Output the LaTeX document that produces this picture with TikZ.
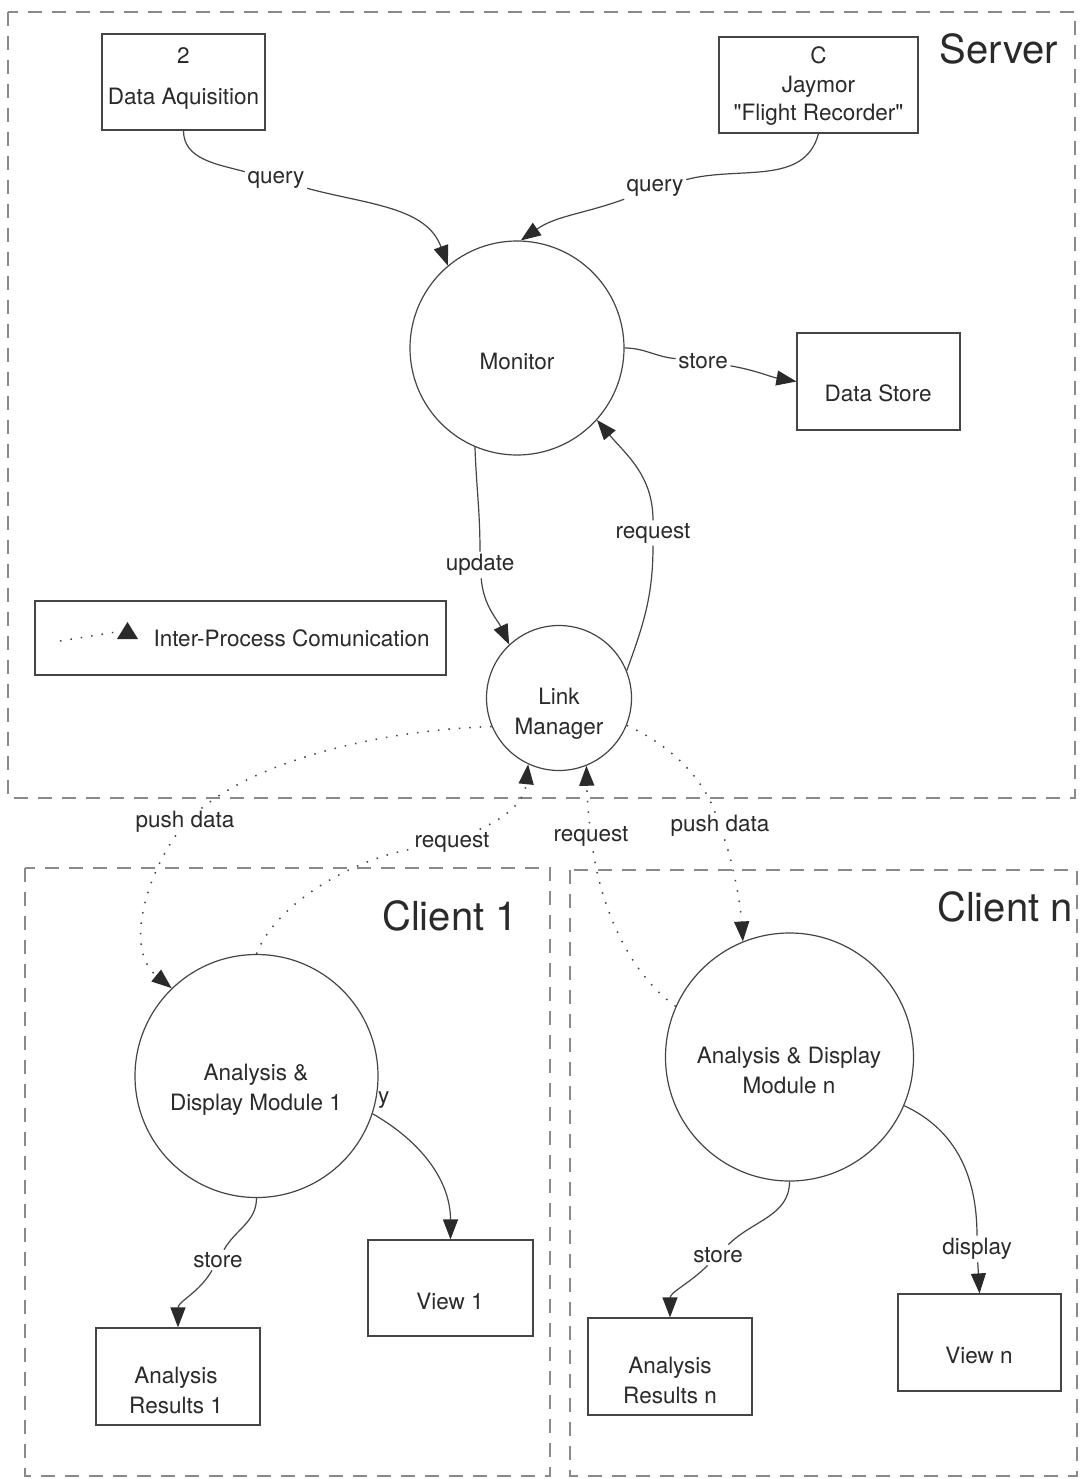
\documentclass[tikz,border=0pt]{standalone}
\usepackage{fontspec}
\setmainfont{TeX Gyre Heros}[Ligatures=TeXOff]
\usetikzlibrary{arrows.meta,backgrounds}
\definecolor{ink}{HTML}{2A2A2A}
\definecolor{lin}{HTML}{454545}
\definecolor{dsh}{HTML}{8A8A8A}
\begin{document}
\begin{tikzpicture}[x=1pt,y=1pt,
  every node/.style={font=\fontsize{22.5}{30}\selectfont, text=ink},
  box/.style={draw=lin, line width=1.2pt, inner sep=0pt},
  proc/.style={draw=lin, line width=1.2pt, circle, inner sep=0pt, fill=white},
  lbl/.style={inner sep=2.5pt},
  title/.style={font=\fontsize{40}{48}\selectfont},
  flow/.style={draw=lin, line width=1.2pt},
  arr/.style={-{Triangle[length=20pt,width=15pt,color=ink]}},
  ipc/.style={draw=lin, line width=1.5pt, dash pattern=on 1.5pt off 9pt},
  region/.style={draw=dsh, line width=1.2pt, dash pattern=on 14pt off 10pt}]

\begin{pgfonlayer}{background}
\fill[white] (0,0) rectangle (1082,-1479);
\end{pgfonlayer}
\useasboundingbox (0,0) rectangle (1082,-1479);

% regions
\draw[region] (8,-12) rectangle (1075,-798);
\draw[region] (25,-868) rectangle (550,-1476);
\draw[region] (570,-870) rectangle (1077,-1476);

\node[title] (server) at (999,-49) {Server};
\node[title] (client1) at (450,-916) {Client 1};
\node[title] (clientn) at (1005,-907) {Client n};

% boxes
\node[box, minimum width=163pt, minimum height=96pt] (dataaq) at (183.5,-82) {};
\node[align=center, font=\fontsize{22.5}{41}\selectfont] (dataaqt) at (183.5,-78) {2\\Data Aquisition};
\node[box, minimum width=199pt, minimum height=96pt] (jaymor) at (818.5,-85) {};
\node[align=center, font=\fontsize{22.5}{28.5}\selectfont] (jaymort) at (818.5,-86.5) {C\\Jaymor\\"Flight Recorder"};
\node[box, minimum width=163pt, minimum height=97pt] (datastore) at (878.5,-381.5) {};
\node (datastoret) at (878,-393) {Data Store};
\node[box, minimum width=411pt, minimum height=74pt] (legend) at (240.5,-638) {};
\node[anchor=west] (legendt) at (150,-638) {Inter-Process Comunication};
\coordinate (legs) at (60,-641);
\coordinate (lege) at (116,-632);
\draw[ipc] (legs) -- (lege);
\fill[ink] (117,-639) -- (138,-639) -- (127.5,-622) -- cycle;

\node[box, minimum width=165pt, minimum height=96pt] (view1) at (450.5,-1288) {};
\node (view1t) at (450,-1301) {View 1};
\node[box, minimum width=164pt, minimum height=97pt] (res1) at (178,-1376.5) {};
\node[align=center] (res1t) at (176,-1390) {Analysis\\Results 1};
\node[box, minimum width=164pt, minimum height=97pt] (resn) at (670,-1366.5) {};
\node[align=center] (resnt) at (670,-1380) {Analysis\\Results n};
\node[box, minimum width=163pt, minimum height=97pt] (viewn) at (979.5,-1342.5) {};
\node (viewnt) at (979,-1355) {View n};

% processes
\node[proc, minimum size=214pt] (monitor) at (517,-348) {};
\node (monitort) at (517,-361) {Monitor};
\node[proc, minimum size=145pt] (linkmgr) at (559,-698) {};
\node[align=center] (linkmgrt) at (559,-714) {Link\\Manager};
\node[proc, minimum size=243pt] (mod1) at (256.5,-1076) {};
\node[align=center] (mod1t) at (256,-1090) {Analysis \&\\Display Module 1};
\node[proc, minimum size=248pt] (modn) at (789.5,-1057) {};
\node[align=center] (modnt) at (789,-1070) {Analysis \& Display\\Module n};

% edge labels
\node[lbl] (q1) at (276,-180) {query};
\node[lbl] (q2) at (655,-188) {query};
\node[lbl] (st1) at (703,-361) {store};
\node[lbl] (upd) at (480,-565) {update};
\node[lbl] (rq1) at (653,-533) {request};
\node[lbl] (pd1) at (185,-822) {push data};
\node[lbl] (rq2) at (452,-842) {request};
\node[lbl] (rq3) at (591,-836) {request};
\node[lbl] (pd2) at (720,-826) {push data};
\node[lbl] (st2) at (218,-1260) {store};
\node[lbl] (st3) at (718,-1255) {store};
\node[lbl] (dsp2) at (977,-1249) {display};
\node[lbl, anchor=west, inner sep=0pt] (dsp1) at (378,-1100) {y};

% server flows
\draw[flow] (dataaq.south) to[out=-90,in=165] (q1);
\draw[flow,arr] (q1) to[out=-15,in=110] (monitor.130);
\draw[flow] (jaymor.south) to[out=-105,in=15] (q2);
\draw[flow,arr] (q2) to[out=200,in=35] (monitor.88);
\draw[flow] (monitor.0) to[out=0,in=175] (st1);
\draw[flow,arr] (st1) to[out=-10,in=170] (datastore.west);
\draw[flow] (monitor.-113) to[out=-88,in=90] (upd);
\draw[flow,arr] (upd) to[out=-85,in=115] (linkmgr.133);
\draw[flow] (linkmgr.22) to[out=70,in=-90] (rq1);
\draw[flow,arr] (rq1) to[out=90,in=-50] (monitor.-42);

% inter-process communication
\draw[ipc] (linkmgr.203) .. controls (380,-730) and (260,-760) .. (pd1);
\draw[ipc,arr] (pd1) .. controls (145,-880) and (125,-950) .. (mod1.134);
\draw[ipc] (mod1.north) .. controls (275,-905) and (350,-860) .. (rq2);
\draw[ipc,arr] (rq2) .. controls (500,-820) and (524,-805) .. (linkmgr.-115);
\draw[ipc] (modn.156) .. controls (625,-970) and (600,-900) .. (rq3);
\draw[ipc,arr] (rq3) .. controls (588,-810) and (587,-795) .. (linkmgr.-68);
\draw[ipc] (linkmgr.-22) .. controls (680,-750) and (705,-785) .. (pd2);
\draw[ipc,arr] (pd2) .. controls (735,-870) and (741,-910) .. (modn.112);

% client flows
\draw[flow] (mod1.south) to[out=-90,in=60] (st2);
\draw[flow,arr] (st2) to[out=-120,in=90] (res1.north);
\draw[flow,arr] (mod1.-18) to[out=-30,in=90] (view1.north);
\draw[flow] (modn.south) to[out=-90,in=45] (st3);
\draw[flow,arr] (st3) to[out=-135,in=90] (resn.north);
\draw[flow] (modn.-23) to[out=-25,in=90] (dsp2);
\draw[flow,arr] (dsp2) -- (viewn.north);
\end{tikzpicture}
\end{document}
